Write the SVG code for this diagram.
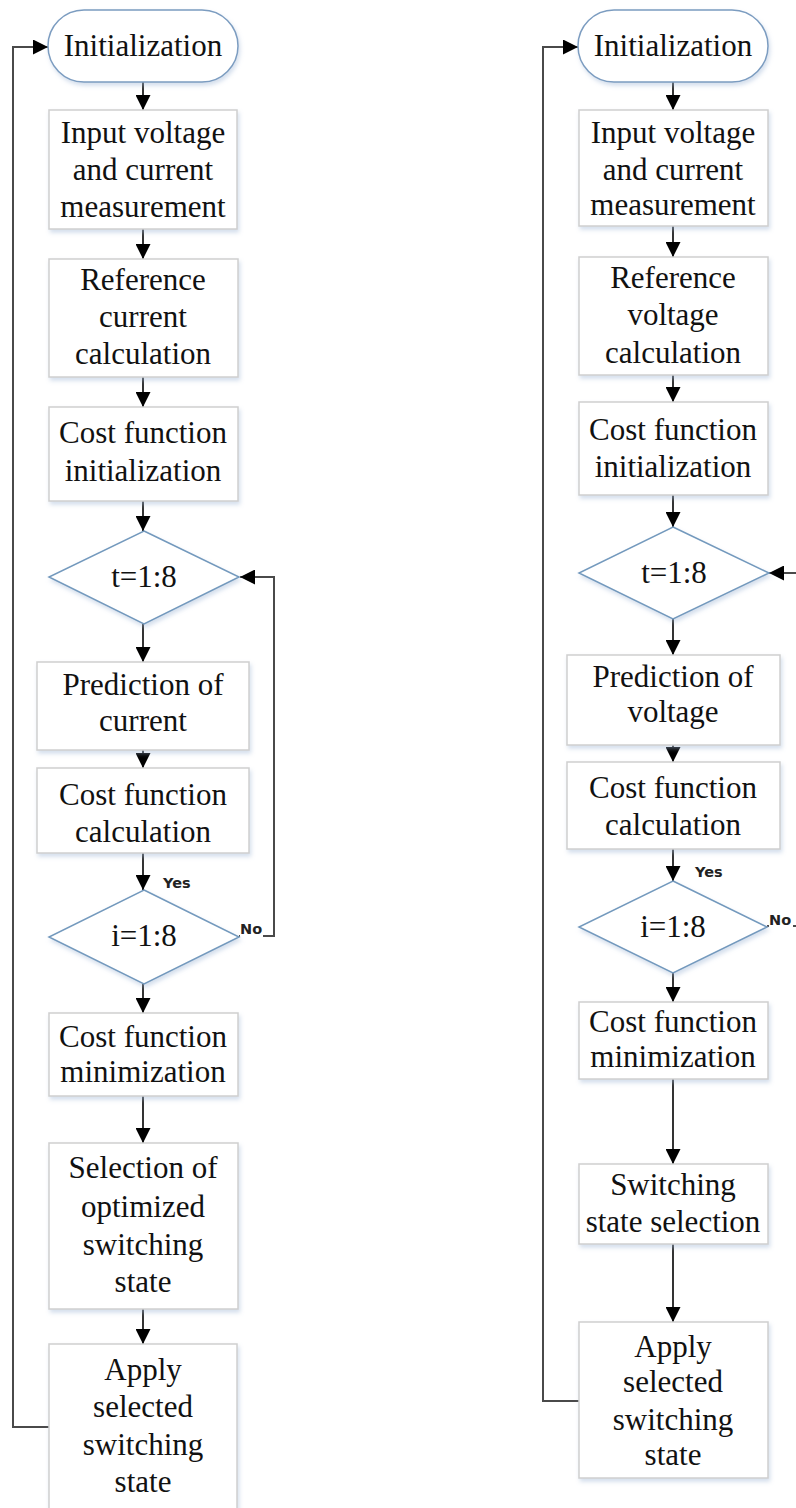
<svg xmlns="http://www.w3.org/2000/svg" width="796" height="1508" viewBox="0 0 796 1508">
  <style>
    .box { fill: #ffffff; stroke: #cfcfcf; stroke-width: 1.5; filter: url(#shadow); }
    .term { fill: #ffffff; stroke: #7b9cc0; stroke-width: 1.5; filter: url(#shadow); }
    .dec { fill: #ffffff; stroke: #7399bd; stroke-width: 1.5; filter: url(#shadow); }
    .lbl { font-family: "Liberation Serif", "Times New Roman", serif; font-size: 31px; fill: #111111; text-anchor: middle; }
    .tag { font-family: "DejaVu Sans", Verdana, sans-serif; font-weight: bold; font-size: 14.5px; fill: #222222; }
    .flow { fill: none; stroke: #000000; stroke-width: 1.6; marker-end: url(#head); }
    .loop { fill: none; stroke: #4a4a4a; stroke-width: 2; marker-end: url(#head); }
  </style>
  <defs>
    <marker id="head" markerUnits="userSpaceOnUse" markerWidth="15" markerHeight="15" refX="15" refY="7.5" orient="auto">
      <path d="M0,0 L15,7.5 L0,15 Z" fill="#000000"/>
    </marker>
    <filter id="shadow" x="-10%" y="-10%" width="125%" height="130%">
      <feDropShadow dx="1.5" dy="3" stdDeviation="2" flood-color="#9fb6d6" flood-opacity="0.45"/>
    </filter>
  </defs>
  <rect width="796" height="1508" fill="#ffffff"/>

  <!-- connectors -->
  <g id="connectors">
    <!-- left flowchart -->
    <path class="flow" d="M143,82 V110"/>
    <path class="flow" d="M143,229 V259"/>
    <path class="flow" d="M143,377 V407"/>
    <path class="flow" d="M143,501 V531"/>
    <path class="flow" d="M143,624 V662"/>
    <path class="flow" d="M143,750 V768"/>
    <path class="flow" d="M143,853 V890"/>
    <path class="flow" d="M143,984 V1013"/>
    <path class="flow" d="M143,1096 V1143"/>
    <path class="flow" d="M143,1309 V1344"/>
    <path class="loop" d="M239,936 H274 V577 H240"/>
    <path class="loop" d="M49,1427 H13 V47 H48"/>
    <!-- right flowchart -->
    <path class="flow" d="M673,82 V110"/>
    <path class="flow" d="M673,226 V257"/>
    <path class="flow" d="M673,375 V402"/>
    <path class="flow" d="M673,495 V527"/>
    <path class="flow" d="M673,619 V655"/>
    <path class="flow" d="M673,745 V762"/>
    <path class="flow" d="M673,849 V881"/>
    <path class="flow" d="M673,973 V1002"/>
    <path class="flow" d="M673,1079 V1164"/>
    <path class="flow" d="M673,1244 V1322"/>
    <path class="loop" d="M767,926 H804 V573 H769"/>
    <path class="loop" d="M579,1401 H543 V47 H578"/>
    <!-- branch labels -->
    <text class="tag" x="163" y="888">Yes</text>
    <rect x="240" y="920" width="23" height="18" fill="#ffffff"/>
    <text class="tag" x="240" y="934">No</text>
    <text class="tag" x="695" y="877">Yes</text>
    <rect x="769" y="911" width="24" height="18" fill="#ffffff"/>
    <text class="tag" x="769" y="925">No</text>
  </g>

  <!-- left flowchart nodes -->
  <g id="l-init">
    <rect class="term" x="48" y="10" width="190" height="72" rx="36"/>
    <text class="lbl" x="143" y="56">Initialization</text>
  </g>
  <g id="l-measure">
    <rect class="box" x="49" y="110" width="188" height="119"/>
    <text class="lbl" x="143" y="143">Input voltage</text>
    <text class="lbl" x="143" y="180">and current</text>
    <text class="lbl" x="143" y="217">measurement</text>
  </g>
  <g id="l-ref">
    <rect class="box" x="49" y="259" width="189" height="118"/>
    <text class="lbl" x="143" y="290">Reference</text>
    <text class="lbl" x="143" y="327">current</text>
    <text class="lbl" x="143" y="364">calculation</text>
  </g>
  <g id="l-cost-init">
    <rect class="box" x="49" y="407" width="189" height="94"/>
    <text class="lbl" x="143" y="443">Cost function</text>
    <text class="lbl" x="143" y="481">initialization</text>
  </g>
  <g id="l-t-loop">
    <polygon class="dec" points="144,531 239,577 144,624 49,577"/>
    <text class="lbl" x="144" y="587">t=1:8</text>
  </g>
  <g id="l-predict">
    <rect class="box" x="37" y="662" width="212" height="88"/>
    <text class="lbl" x="143" y="695">Prediction of</text>
    <text class="lbl" x="143" y="731">current</text>
  </g>
  <g id="l-cost-calc">
    <rect class="box" x="37" y="768" width="212" height="85"/>
    <text class="lbl" x="143" y="805">Cost function</text>
    <text class="lbl" x="143" y="842">calculation</text>
  </g>
  <g id="l-i-loop">
    <polygon class="dec" points="144,890 239,937 144,984 49,937"/>
    <text class="lbl" x="144" y="946">i=1:8</text>
  </g>
  <g id="l-cost-min">
    <rect class="box" x="49" y="1013" width="189" height="83"/>
    <text class="lbl" x="143" y="1047">Cost function</text>
    <text class="lbl" x="143" y="1082">minimization</text>
  </g>
  <g id="l-select">
    <rect class="box" x="49" y="1143" width="189" height="166"/>
    <text class="lbl" x="143" y="1178">Selection of</text>
    <text class="lbl" x="143" y="1217">optimized</text>
    <text class="lbl" x="143" y="1255">switching</text>
    <text class="lbl" x="143" y="1292">state</text>
  </g>
  <g id="l-apply">
    <rect class="box" x="49" y="1344" width="188" height="170"/>
    <text class="lbl" x="143" y="1380">Apply</text>
    <text class="lbl" x="143" y="1417">selected</text>
    <text class="lbl" x="143" y="1455">switching</text>
    <text class="lbl" x="143" y="1492">state</text>
  </g>

  <!-- right flowchart nodes -->
  <g id="r-init">
    <rect class="term" x="578" y="10" width="190" height="72" rx="36"/>
    <text class="lbl" x="673" y="56">Initialization</text>
  </g>
  <g id="r-measure">
    <rect class="box" x="579" y="110" width="189" height="116"/>
    <text class="lbl" x="673" y="143">Input voltage</text>
    <text class="lbl" x="673" y="180">and current</text>
    <text class="lbl" x="673" y="215">measurement</text>
  </g>
  <g id="r-ref">
    <rect class="box" x="579" y="257" width="189" height="118"/>
    <text class="lbl" x="673" y="288">Reference</text>
    <text class="lbl" x="673" y="325">voltage</text>
    <text class="lbl" x="673" y="363">calculation</text>
  </g>
  <g id="r-cost-init">
    <rect class="box" x="579" y="402" width="189" height="93"/>
    <text class="lbl" x="673" y="440">Cost function</text>
    <text class="lbl" x="673" y="477">initialization</text>
  </g>
  <g id="r-t-loop">
    <polygon class="dec" points="673,527 769,573 673,619 579,573"/>
    <text class="lbl" x="674" y="583">t=1:8</text>
  </g>
  <g id="r-predict">
    <rect class="box" x="567" y="655" width="213" height="90"/>
    <text class="lbl" x="673" y="687">Prediction of</text>
    <text class="lbl" x="673" y="722">voltage</text>
  </g>
  <g id="r-cost-calc">
    <rect class="box" x="567" y="762" width="213" height="87"/>
    <text class="lbl" x="673" y="798">Cost function</text>
    <text class="lbl" x="673" y="835">calculation</text>
  </g>
  <g id="r-i-loop">
    <polygon class="dec" points="673,881 767,927 673,973 579,927"/>
    <text class="lbl" x="673" y="937">i=1:8</text>
  </g>
  <g id="r-cost-min">
    <rect class="box" x="579" y="1002" width="189" height="77"/>
    <text class="lbl" x="673" y="1032">Cost function</text>
    <text class="lbl" x="673" y="1067">minimization</text>
  </g>
  <g id="r-select">
    <rect class="box" x="579" y="1164" width="189" height="80"/>
    <text class="lbl" x="673" y="1195">Switching</text>
    <text class="lbl" x="673" y="1232">state selection</text>
  </g>
  <g id="r-apply">
    <rect class="box" x="579" y="1322" width="189" height="156"/>
    <text class="lbl" x="673" y="1357">Apply</text>
    <text class="lbl" x="673" y="1392">selected</text>
    <text class="lbl" x="673" y="1430">switching</text>
    <text class="lbl" x="673" y="1465">state</text>
  </g>
</svg>
